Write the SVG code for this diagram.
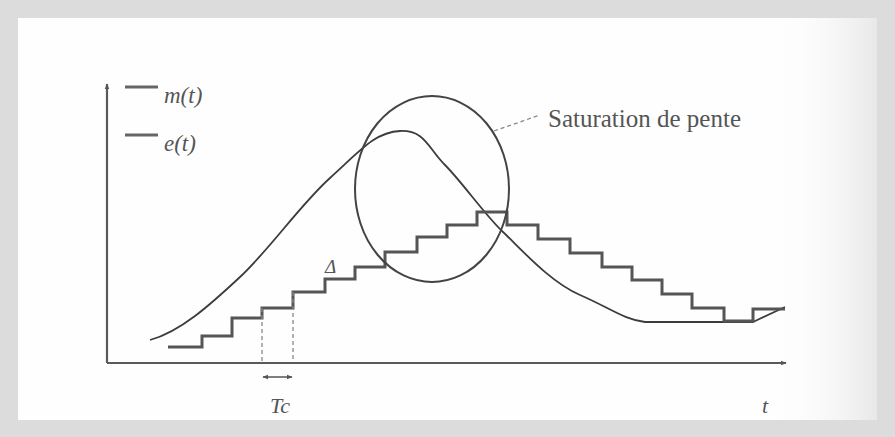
<svg xmlns="http://www.w3.org/2000/svg" width="895" height="437" viewBox="0 0 895 437">
<style>
.ax{stroke:#5a5a5a;stroke-width:2.2;fill:none}
.curve{stroke:#3c3c3c;stroke-width:1.8;fill:none;stroke-linejoin:round}
.stair{stroke:#555;stroke-width:3;fill:none;stroke-linejoin:miter}
.dash{stroke:#888;stroke-width:1.3;fill:none;stroke-dasharray:4 3}
.lbl{font-family:"Liberation Serif","Times New Roman",serif;fill:#555}
.it{font-style:italic}
</style>
<defs>
<marker id="ah" viewBox="0 0 10 10" refX="9" refY="5" markerWidth="6" markerHeight="6" orient="auto-start-reverse" markerUnits="userSpaceOnUse">
<path d="M0,1 L10,5 L0,9 z" fill="#555"/>
</marker>
<linearGradient id="rg" x1="0" y1="0" x2="1" y2="0">
<stop offset="0" stop-color="#ffffff" stop-opacity="0"/>
<stop offset="1" stop-color="#e8e8e8" stop-opacity="1"/>
</linearGradient>
</defs>
<rect x="0" y="0" width="895" height="437" fill="#dcdcdc"/>
<rect x="18" y="18" width="859" height="402" fill="#fefefe"/>
<rect x="770" y="18" width="107" height="402" fill="url(#rg)"/>

<g id="axes">
<line class="ax" x1="107" y1="363" x2="107" y2="84" marker-end="url(#ah)"/>
<line class="ax" x1="107" y1="363" x2="786" y2="363" marker-end="url(#ah)"/>
</g>

<g id="legend">
<line x1="125" y1="87" x2="158" y2="87" stroke="#666" stroke-width="3"/>
<text class="lbl it" x="164" y="103" font-size="23">m(t)</text>
<line x1="125" y1="135" x2="158" y2="135" stroke="#666" stroke-width="3"/>
<text class="lbl it" x="164" y="151" font-size="23">e(t)</text>
</g>

<g id="signal-m">
<path class="curve" d="M150,340 C180,332 210,305 240,277 S300,205 330,178 S375,132 400,131 S428,148 445,165 S485,215 503,232 S550,282 580,295 S625,320 645,322 H753 L785,307"/>
</g>

<g id="signal-e">
<path class="stair" d="M168,347 H202 V336 H232 V318 H262 V308 H293 V292 H325 V279 H355 V267 H385 V252 H417 V237 H447 V225 H477 V212 H507 V225 H538 V239 H570 V253 H602 V267 H632 V280 H662 V294 H692 V308 H724 V321 H753 V309 H785"/>
</g>

<g id="saturation">
<ellipse cx="432" cy="189" rx="77" ry="93" fill="none" stroke="#444" stroke-width="2"/>
<line class="dash" x1="494" y1="131" x2="540" y2="115"/>
<text class="lbl" x="548" y="127" font-size="25">Saturation de pente</text>
</g>

<g id="delta">
<text class="lbl it" x="325" y="273" font-size="19">Δ</text>
</g>

<g id="tc">
<line class="dash" x1="262" y1="308" x2="262" y2="362"/>
<line class="dash" x1="293" y1="292" x2="293" y2="362"/>
<line x1="263" y1="377" x2="292" y2="377" stroke="#555" stroke-width="1.5" marker-start="url(#ah)" marker-end="url(#ah)"/>
<text class="lbl it" x="270" y="413" font-size="22">Tc</text>
</g>

<g id="t-label">
<text class="lbl it" x="762" y="413" font-size="22">t</text>
</g>
</svg>
